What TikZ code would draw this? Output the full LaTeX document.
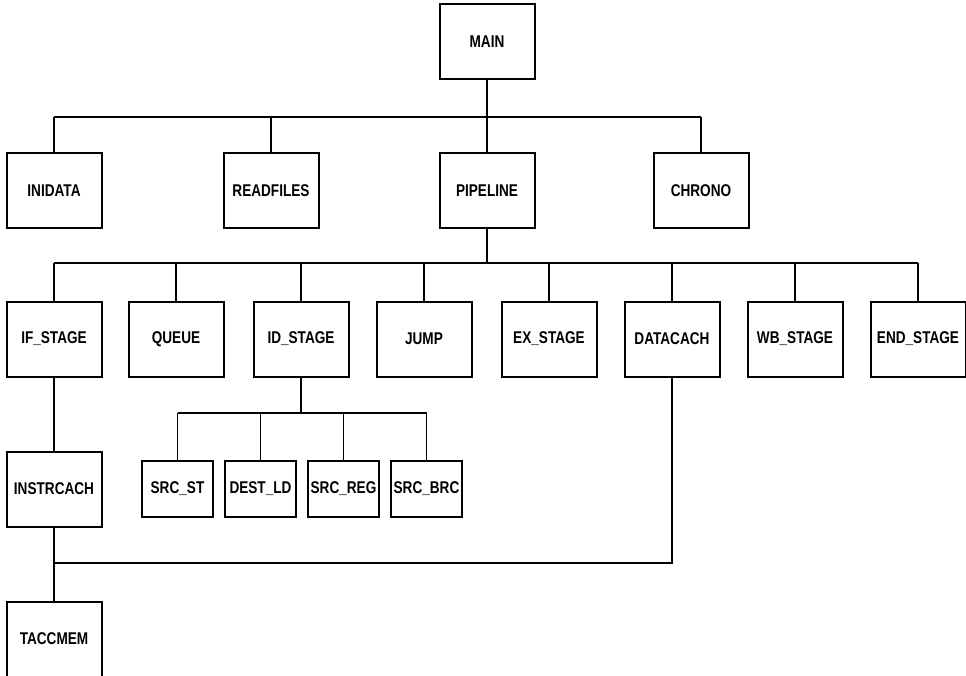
\documentclass[tikz,border=0pt]{standalone}
\usepackage{fontspec}
\setmainfont{Liberation Sans}[FakeStretch=0.8]
\usetikzlibrary{positioning}

\begin{document}
\begin{tikzpicture}[
  x=1pt, y=-1pt,
  font=\fontsize{17}{19}\selectfont\bfseries,
  module/.style={draw, line width=2pt, minimum width=95pt, minimum height=75pt, inner sep=0pt},
  submodule/.style={module, minimum width=71pt, minimum height=56pt},
  link/.style={line width=1.6pt}
]
\useasboundingbox (0,0) rectangle (966,676);

% top level
\node[module] (main) at (487,42) {MAIN};
\node[module] (inidata) at (54,191) {INIDATA};
\node[module] (readfiles) at (271,191) {READFILES};
\node[module] (pipeline) at (487,191) {PIPELINE};
\node[module] (chrono) at (701,191) {CHRONO};

% pipeline stages
\node[module] (ifstage) at (54,339) {IF\_STAGE};
\node[module] (queue) at (176,339) {QUEUE};
\node[module] (idstage) at (301,339) {ID\_STAGE};
\node[module] (jump) at (424,339) {JUMP};
\node[module] (exstage) at (549,339) {EX\_STAGE};
\node[module] (datacach) at (672,339) {DATACACH};
\node[module] (wbstage) at (795,339) {WB\_STAGE};
\node[module] (endstage) at (918,339) {END\_STAGE};

% decode units
\node[submodule] (srcst) at (177.5,489) {SRC\_ST};
\node[submodule] (destld) at (260.5,489) {DEST\_LD};
\node[submodule] (srcreg) at (343.5,489) {SRC\_REG};
\node[submodule] (srcbrc) at (426.5,489) {SRC\_BRC};

% memory
\node[module] (instrcach) at (54,489) {INSTRCACH};
\node[module] (taccmem) at (54,639) {TACCMEM};

% buses
\coordinate (bus1) at (487,117);
\coordinate (bus2) at (487,263);
\coordinate (bus3) at (301,413);
\coordinate (bus4) at (54,563);

\draw[link] (main.south) -- (bus1);
\draw[link] (inidata.north |- bus1) -- (chrono.north |- bus1);
\foreach \n in {inidata,readfiles,pipeline,chrono}
  \draw[link] (\n.north |- bus1) -- (\n.north);

\draw[link] (pipeline.south) -- (bus2);
\draw[link] (ifstage.north |- bus2) -- (endstage.north |- bus2);
\foreach \n in {ifstage,queue,idstage,jump,exstage,datacach,wbstage,endstage}
  \draw[link] (\n.north |- bus2) -- (\n.north);

\draw[link] (idstage.south) -- (bus3);
\draw[link] (srcst.north |- bus3) -- (srcbrc.north |- bus3);
\foreach \n in {srcst,destld,srcreg,srcbrc}
  \draw[link] (\n.north |- bus3) -- (\n.north);

\draw[link] (ifstage.south) -- (instrcach.north);
\draw[link] (instrcach.south) -- (taccmem.north);
\draw[link] (datacach.south) |- (bus4);
\end{tikzpicture}
\end{document}
